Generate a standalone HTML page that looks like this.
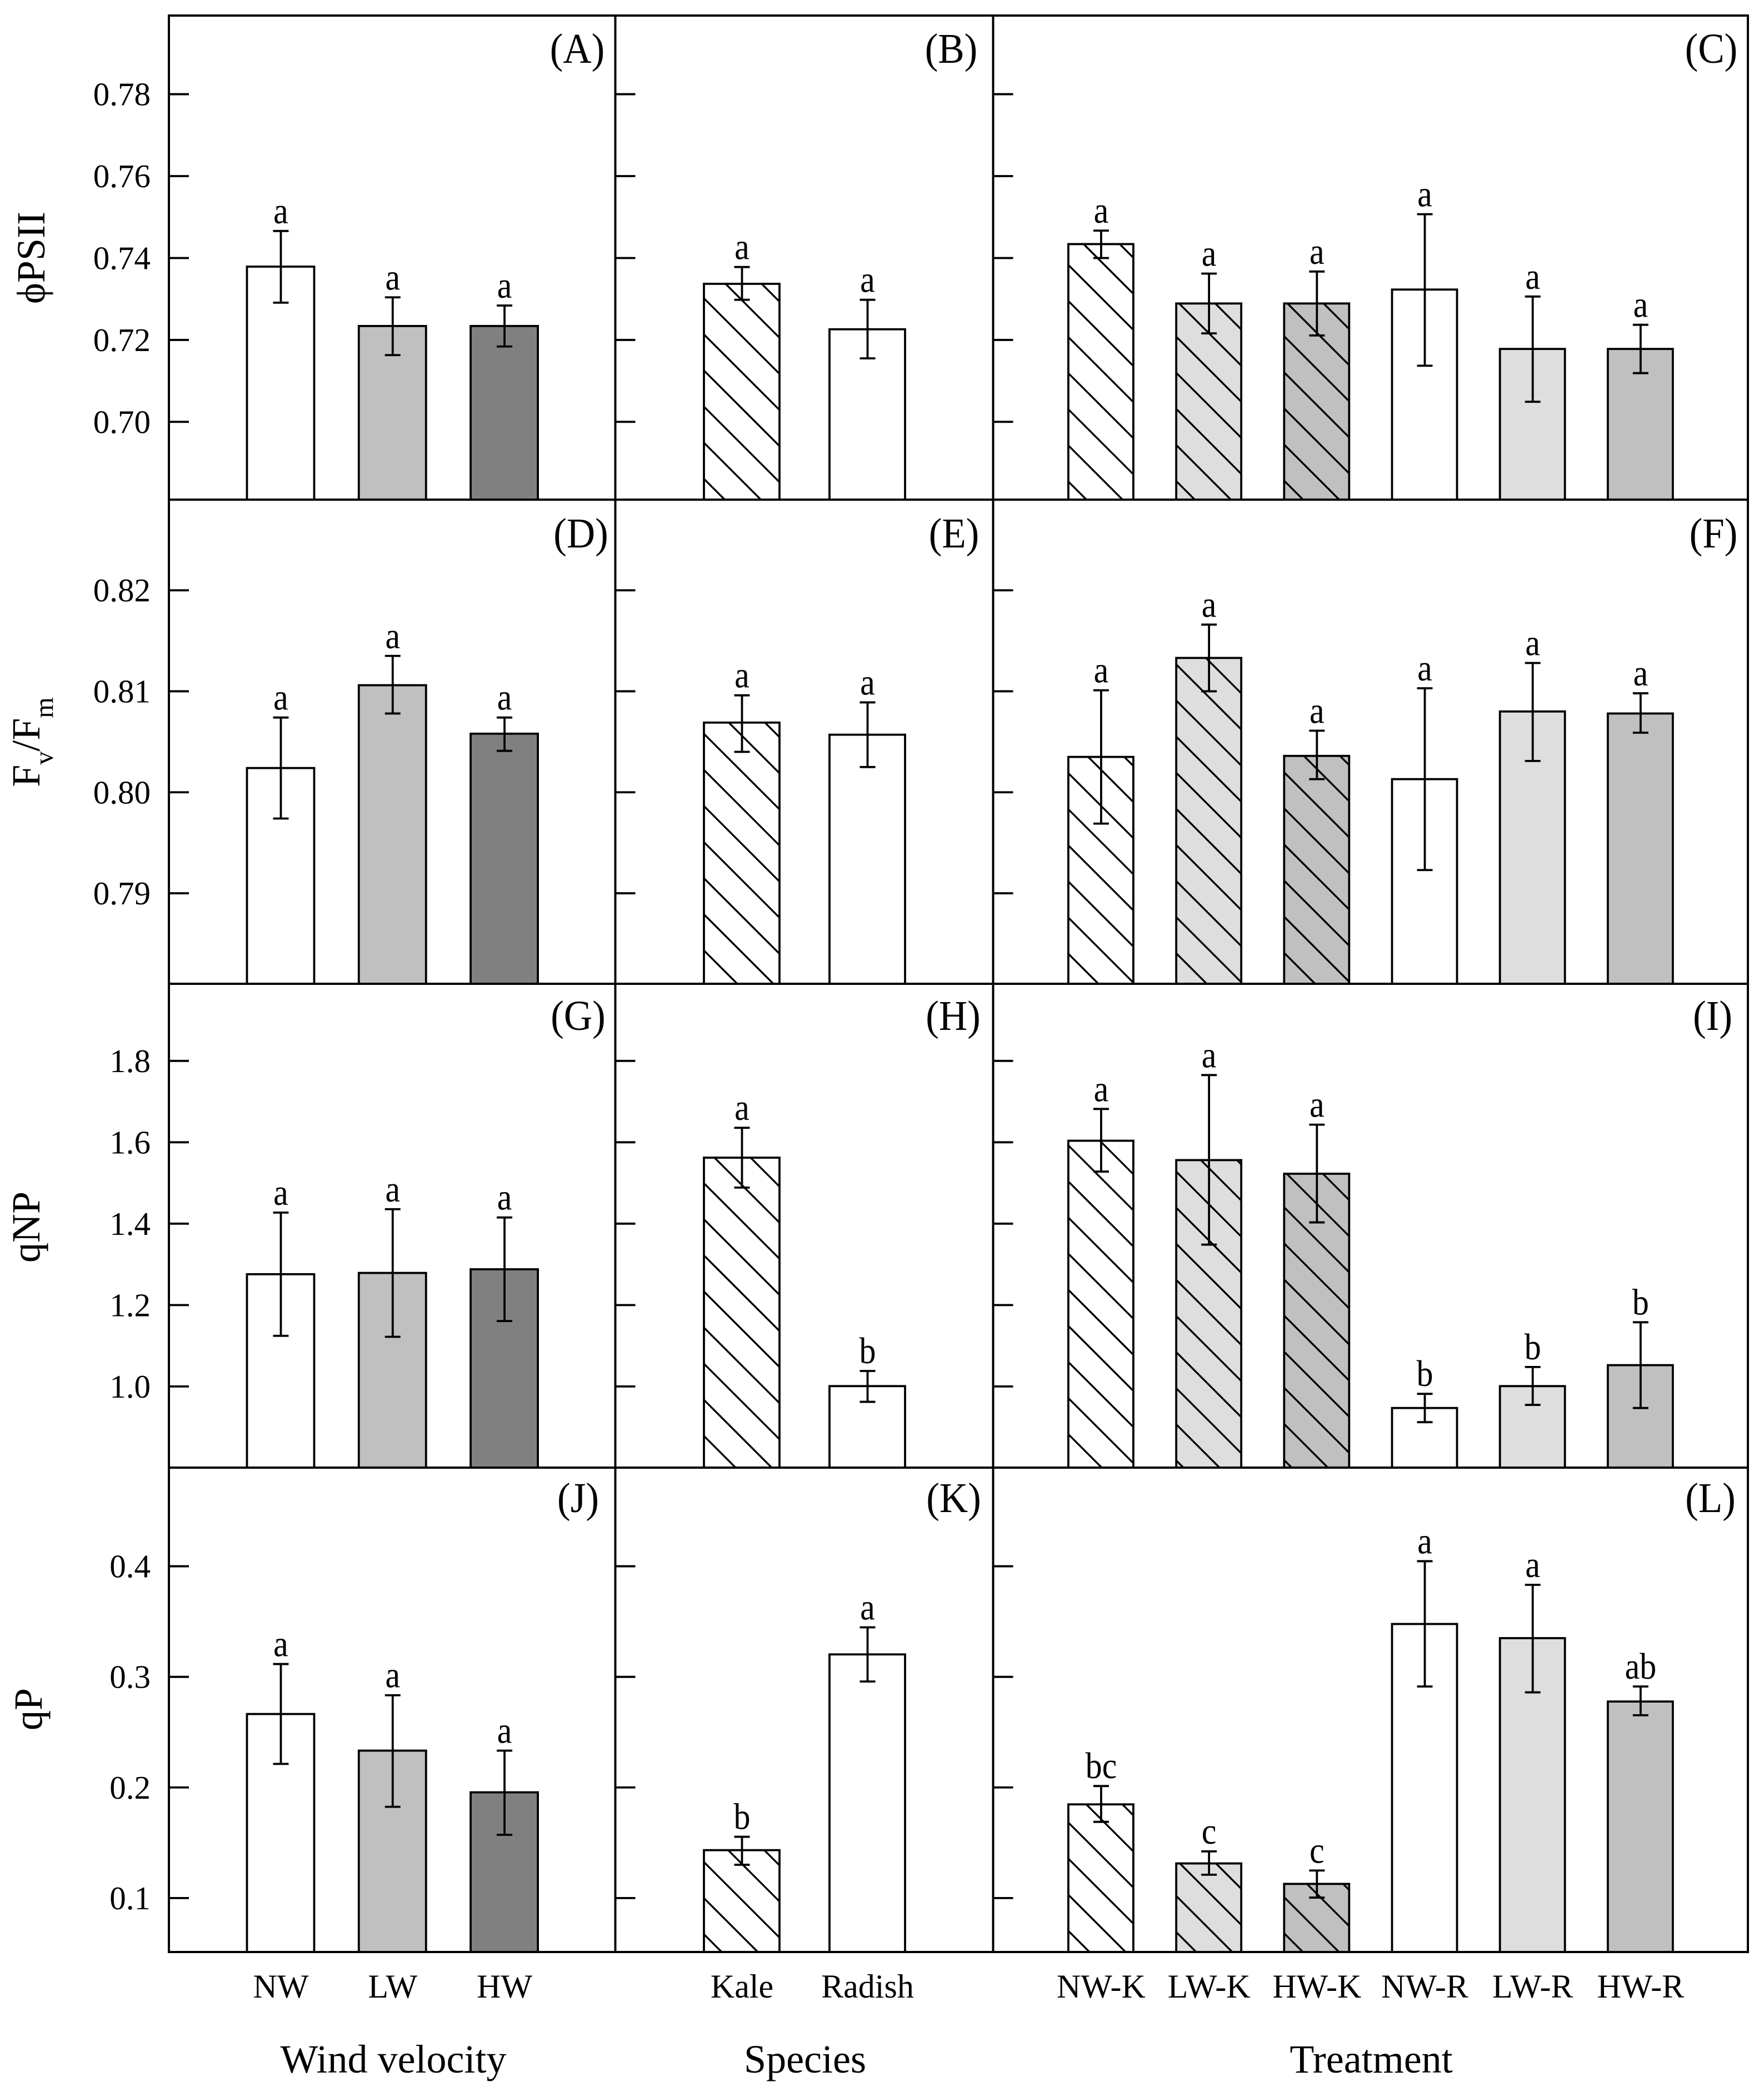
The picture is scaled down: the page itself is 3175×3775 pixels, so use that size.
<!DOCTYPE html>
<html lang="en">
<head>
<meta charset="utf-8">
<title>Chlorophyll fluorescence bar charts</title>
<style>
html,body{margin:0;padding:0;background:#fff;width:3175px;height:3775px;overflow:hidden}
svg{display:block}
text{font-family:"Liberation Serif",serif;fill:#000}
</style>
</head>
<body>
<svg id="chart" xmlns="http://www.w3.org/2000/svg" width="3175" height="3775" viewBox="0 0 3175 3775">
  <rect x="0" y="0" width="3175" height="3775" fill="#fff"/>
  <g id="marks"></g>
  <g id="frames"></g>
  <g font-size="72">
    <text transform="translate(80,464) rotate(-90)" text-anchor="middle">ϕPSII</text>
    <text transform="translate(71,1336) rotate(-90)" text-anchor="middle">F<tspan font-size="48" dy="24">v</tspan><tspan dy="-24">/F</tspan><tspan font-size="48" dy="24">m</tspan></text>
    <text transform="translate(71,2209) rotate(-90)" text-anchor="middle">qNP</text>
    <text transform="translate(75,3077) rotate(-90)" text-anchor="middle">qP</text>
  </g>
  <g font-size="72" text-anchor="middle">
    <text x="708" y="3731">Wind velocity</text>
    <text x="1449" y="3731">Species</text>
    <text x="2468" y="3731">Treatment</text>
  </g>
</svg>
<script>
// Categories
const categoriesWind = ['NW', 'LW', 'HW'];
const categoriesSpecies = ['Kale', 'Radish'];
const categoriesTreatment = ['NW-K', 'LW-K', 'HW-K', 'NW-R', 'LW-R', 'HW-R'];

// Tick values / labels
const ticksPhi = [0.70, 0.72, 0.74, 0.76, 0.78];
const tickLabelsPhi = ['0.70', '0.72', '0.74', '0.76', '0.78'];
const ticksFv = [0.79, 0.80, 0.81, 0.82];
const tickLabelsFv = ['0.79', '0.80', '0.81', '0.82'];
const ticksQnp = [1.0, 1.2, 1.4, 1.6, 1.8];
const tickLabelsQnp = ['1.0', '1.2', '1.4', '1.6', '1.8'];
const ticksQp = [0.1, 0.2, 0.3, 0.4];
const tickLabelsQp = ['0.1', '0.2', '0.3', '0.4'];

// Panel values: mean, upper error end, lower error end, significance letter
const valuesA = [0.7379, 0.7234, 0.7234];
const errHiA = [0.7466, 0.7304, 0.7284];
const errLoA = [0.7291, 0.7163, 0.7184];
const lettersA = ['a', 'a', 'a'];

const valuesB = [0.7337, 0.7226];
const errHiB = [0.7378, 0.7298];
const errLoB = [0.7298, 0.7155];
const lettersB = ['a', 'a'];

const valuesC = [0.7434, 0.7289, 0.7289, 0.7323, 0.7178, 0.7178];
const errHiC = [0.7467, 0.7362, 0.7367, 0.7507, 0.7306, 0.7237];
const errLoC = [0.7400, 0.7216, 0.7211, 0.7137, 0.7049, 0.7119];
const lettersC = ['a', 'a', 'a', 'a', 'a', 'a'];

const valuesD = [0.8024, 0.8106, 0.8058];
const errHiD = [0.8074, 0.8135, 0.8074];
const errLoD = [0.7974, 0.8078, 0.8041];
const lettersD = ['a', 'a', 'a'];

const valuesE = [0.8069, 0.8057];
const errHiE = [0.8096, 0.8089];
const errLoE = [0.8040, 0.8025];
const lettersE = ['a', 'a'];

const valuesF = [0.8035, 0.8133, 0.8036, 0.8013, 0.8080, 0.8078];
const errHiF = [0.8101, 0.8166, 0.8061, 0.8103, 0.8128, 0.8098];
const errLoF = [0.7969, 0.8100, 0.8013, 0.7923, 0.8031, 0.8059];
const lettersF = ['a', 'a', 'a', 'a', 'a', 'a'];

const valuesG = [1.2758, 1.2789, 1.2879];
const errHiG = [1.4273, 1.4356, 1.4152];
const errLoG = [1.1244, 1.1220, 1.1607];
const lettersG = ['a', 'a', 'a'];

const valuesH = [1.5622, 1.0008];
const errHiH = [1.6356, 1.0380];
const errLoH = [1.4887, 0.9622];
const lettersH = ['a', 'b'];

const valuesI = [1.6038, 1.5562, 1.5227, 0.9470, 1.0008, 1.0523];
const errHiI = [1.6819, 1.7652, 1.6433, 0.9818, 1.0478, 1.1577];
const errLoI = [1.5280, 1.3485, 1.4031, 0.9122, 0.9547, 0.9470];
const lettersI = ['a', 'a', 'a', 'b', 'b', 'b'];

const valuesJ = [0.2664, 0.2333, 0.1956];
const errHiJ = [0.3116, 0.2834, 0.2333];
const errLoJ = [0.2213, 0.1825, 0.1572];
const lettersJ = ['a', 'a', 'a'];

const valuesK = [0.1433, 0.3203];
const errHiK = [0.1554, 0.3448];
const errLoK = [0.1301, 0.2958];
const lettersK = ['b', 'a'];

const valuesL = [0.1847, 0.1313, 0.1128, 0.3478, 0.3350, 0.2777];
const errHiL = [0.2013, 0.1422, 0.1249, 0.4046, 0.3832, 0.2913];
const errLoL = [0.1689, 0.1211, 0.1004, 0.2913, 0.2860, 0.2653];
const lettersL = ['bc', 'c', 'c', 'a', 'a', 'ab'];

// Layout
const SVGNS = 'http://www.w3.org/2000/svg';
const rows = [
  {top: 28, bottom: 899.5, domMin: 0.6810, domMax: 0.7992, ticks: ticksPhi, labels: tickLabelsPhi, labelDy: 85, name: 'phipsii'},
  {top: 899.5, bottom: 1771, domMin: 0.78104, domMax: 0.82897, ticks: ticksFv, labels: tickLabelsFv, labelDy: 86, name: 'fv-fm'},
  {top: 1771, bottom: 2642, domMin: 0.8005, domMax: 1.9895, ticks: ticksQnp, labels: tickLabelsQnp, labelDy: 83, name: 'qnp'},
  {top: 2642, bottom: 3514, domMin: 0.0512, domMax: 0.4892, ticks: ticksQp, labels: tickLabelsQp, labelDy: 80, name: 'qp'}
];
const cols = [
  {left: 304, right: 1107.5, start: 505, step: 201.3, width: 121, cats: categoriesWind,
   fills: ['#ffffff', '#c0c0c0', '#808080'], hatched: [false, false, false]},
  {left: 1107.5, right: 1787.5, start: 1335, step: 226, width: 136, cats: categoriesSpecies,
   fills: ['#ffffff', '#ffffff'], hatched: [true, false]},
  {left: 1787.5, right: 3146, start: 1981.4, step: 194.2, width: 117, cats: categoriesTreatment,
   fills: ['#ffffff', '#dedede', '#c0c0c0', '#ffffff', '#dedede', '#c0c0c0'], hatched: [true, true, true, false, false, false]}
];
const panels = [
  {id: 'a', tag: '(A)', row: 0, col: 0, lx: 1039, v: valuesA, hi: errHiA, lo: errLoA, let: lettersA, phase: []},
  {id: 'b', tag: '(B)', row: 0, col: 1, lx: 1712, v: valuesB, hi: errHiB, lo: errLoB, let: lettersB, phase: [50]},
  {id: 'c', tag: '(C)', row: 0, col: 2, lx: 3080, v: valuesC, hi: errHiC, lo: errLoC, let: lettersC, phase: [49, 49, 49]},
  {id: 'd', tag: '(D)', row: 1, col: 0, lx: 1045.5, v: valuesD, hi: errHiD, lo: errLoD, let: lettersD, phase: []},
  {id: 'e', tag: '(E)', row: 1, col: 1, lx: 1717, v: valuesE, hi: errHiE, lo: errLoE, let: lettersE, phase: [54]},
  {id: 'f', tag: '(F)', row: 1, col: 2, lx: 3084, v: valuesF, hi: errHiF, lo: errLoF, let: lettersF, phase: [54, 54, 54]},
  {id: 'g', tag: '(G)', row: 2, col: 0, lx: 1040.5, v: valuesG, hi: errHiG, lo: errLoG, let: lettersG, phase: []},
  {id: 'h', tag: '(H)', row: 2, col: 1, lx: 1715.5, v: valuesH, hi: errHiH, lo: errLoH, let: lettersH, phase: [18]},
  {id: 'i', tag: '(I)', row: 2, col: 2, lx: 3082.6, v: valuesI, hi: errHiI, lo: errLoI, let: lettersI, phase: [9, 57, 57]},
  {id: 'j', tag: '(J)', row: 3, col: 0, lx: 1040.5, v: valuesJ, hi: errHiJ, lo: errLoJ, let: lettersJ, phase: []},
  {id: 'k', tag: '(K)', row: 3, col: 1, lx: 1716.5, v: valuesK, hi: errHiK, lo: errLoK, let: lettersK, phase: [5]},
  {id: 'l', tag: '(L)', row: 3, col: 2, lx: 3078.5, v: valuesL, hi: errHiL, lo: errLoL, let: lettersL, phase: [58, 61, 64]}
];
const HATCH_SPACING = 65;
const CAP = 14;
const TICK_LEN = 36;
const STROKE = 3.8;

function mk(tag, attrs, parent) {
  const el = document.createElementNS(SVGNS, tag);
  for (const k in attrs) el.setAttribute(k, attrs[k]);
  parent.appendChild(el);
  return el;
}
function yScale(r) {
  return function (v) {
    return r.bottom - (v - r.domMin) / (r.domMax - r.domMin) * (r.bottom - r.top);
  };
}
function xScale(c) {
  return function (i) {
    return c.start + i * c.step;
  };
}

const marks = document.getElementById('marks');
const frames = document.getElementById('frames');
const defs = mk('defs', {}, marks);

panels.forEach(function (p) {
  const r = rows[p.row];
  const c = cols[p.col];
  const y = yScale(r);
  const x = xScale(c);
  const g = mk('g', {}, marks);
  
  

  p.v.forEach(function (val, i) {
    const cx = x(i);
    const bx = cx - c.width / 2;
    const top = y(val);
    const h = r.bottom - top;
    const bar = mk('rect', {x: bx, y: top, width: c.width, height: h, fill: c.fills[i], stroke: 'none'}, g);
    
    

    if (c.hatched[i]) {
      const clipId = 'clip-' + p.id + '-' + i;
      const clip = mk('clipPath', {id: clipId}, defs);
      mk('rect', {x: bx, y: top, width: c.width, height: h}, clip);
      const hg = mk('g', {'clip-path': 'url(#' + clipId + ')', stroke: '#000', 'stroke-width': 3.4}, g);
      
      
      const base = p.phase[i] + bx;
      const kMin = Math.floor((top - c.width - base) / HATCH_SPACING);
      const kMax = Math.ceil((r.bottom - base) / HATCH_SPACING);
      for (let k = kMin; k <= kMax; k++) {
        const y1 = base + k * HATCH_SPACING;
        mk('line', {x1: bx, y1: y1, x2: bx + c.width, y2: y1 + c.width}, hg);
      }
    }

    const outline = mk('rect', {x: bx, y: top, width: c.width, height: h, fill: 'none', stroke: '#000', 'stroke-width': STROKE}, g);
    
    

    const ex = cx + 0.5;
    const yHi = y(p.hi[i]);
    const yLo = y(p.lo[i]);
    const eb = mk('path', {
      d: 'M' + (ex - CAP) + ' ' + yHi + 'H' + (ex + CAP) + 'M' + ex + ' ' + yHi + 'V' + yLo + 'M' + (ex - CAP) + ' ' + yLo + 'H' + (ex + CAP),
      fill: 'none', stroke: '#000', 'stroke-width': 3.8
    }, g);
    
    

    const lt = mk('text', {transform: 'translate(' + ex + ',' + (yHi - 14) + ') scale(1,1.12)', 'font-size': 60, 'text-anchor': 'middle'}, g);
    lt.textContent = p.let[i];
    
    
  });

  const tag = mk('text', {transform: 'translate(' + p.lx + ',' + (r.top + r.labelDy) + ') scale(1,1.08)', 'font-size': 71, 'text-anchor': 'middle'}, g);
  tag.textContent = p.tag;
  
  

  r.ticks.forEach(function (t, i) {
    const ty = y(t);
    const tick = mk('line', {x1: c.left, y1: ty, x2: c.left + TICK_LEN, y2: ty, stroke: '#000', 'stroke-width': 3.8}, g);
    
    
    if (p.col === 0) {
      const tl = mk('text', {x: 271, y: ty + 20, 'font-size': 59, 'text-anchor': 'end'}, g);
      tl.textContent = r.labels[i];
      
      
    }
  });

  if (p.row === 3) {
    c.cats.forEach(function (name, i) {
      const xl = mk('text', {x: x(i) + 0.5, y: 3596, 'font-size': 60, 'text-anchor': 'middle'}, g);
      xl.textContent = name;
      
      
    });
  }

  const fr = mk('rect', {x: c.left, y: r.top, width: c.right - c.left, height: r.bottom - r.top, fill: 'none', stroke: '#000', 'stroke-width': 4}, frames);
  
  
});
</script>
</body>
</html>
